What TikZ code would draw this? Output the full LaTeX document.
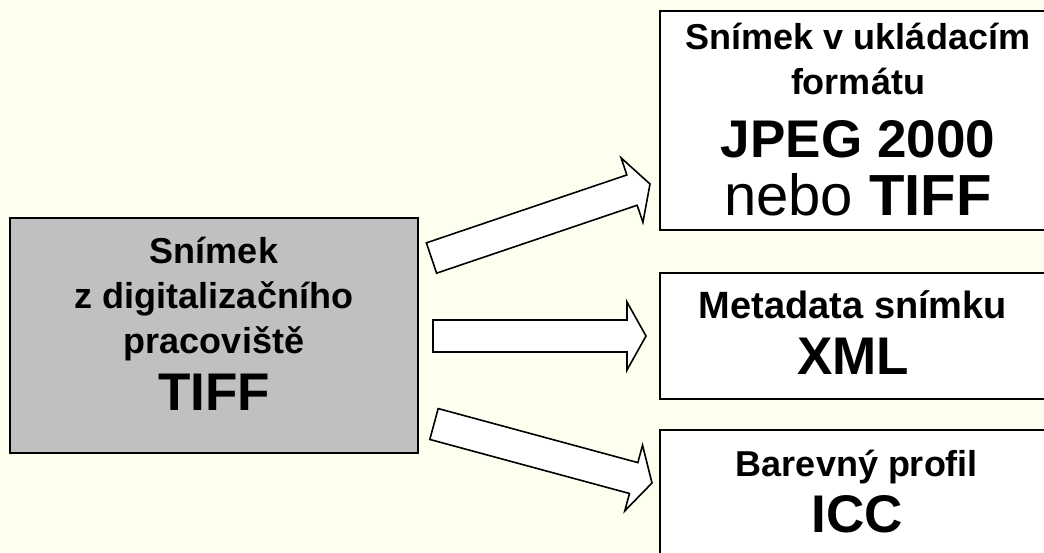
\documentclass[tikz,border=0pt]{standalone}
\usepackage{fontspec}
\setmainfont{Liberation Sans}
\usetikzlibrary{calc}
\definecolor{bgyellow}{RGB}{255,255,240}
\definecolor{boxgray}{RGB}{192,192,192}
\newcommand\bigtxt{\fontsize{53}{60}\selectfont}
\newcommand\fatarrow[3]{%
  \coordinate (#3h) at ($(#2)!19pt!(#1)$);
  \draw[fat] ($(#1)!16pt!90:(#2)$) -- ($(#3h)!16pt!90:(#2)$) -- ($(#3h)!34pt!90:(#2)$) -- (#2)
    -- ($(#3h)!34pt!-90:(#2)$) -- ($(#3h)!16pt!-90:(#2)$) -- ($(#1)!16pt!-90:(#2)$) -- cycle;
}
\tikzset{
  boxnode/.style={draw=black, line width=1.6pt, inner sep=0pt, rectangle},
  srcbox/.style={boxnode, fill=boxgray},
  dstbox/.style={boxnode, fill=white},
  txt/.style={align=center, inner sep=0pt, font=\fontsize{36}{45}\selectfont\bfseries},
  fat/.style={draw=black, line width=1.6pt, fill=white, line join=miter},
}
\begin{document}
\begin{tikzpicture}[x=1pt,y=-1pt]
\useasboundingbox (0,0) rectangle (1044,552);
\clip (0,0) rectangle (1044,552);
\fill[bgyellow] (0,0) rectangle (1044,552);

% boxes
\node[srcbox, minimum width=408pt, minimum height=235pt] (src) at (214,335.5) {};
\node[dstbox, minimum width=394pt, minimum height=219pt] (out1) at (857,120.5) {};
\node[dstbox, minimum width=394pt, minimum height=126pt] (out2) at (857,336) {};
\node[dstbox, minimum width=394pt, minimum height=126pt] (out3) at (857,493) {};

% texts
\node[txt] (srct) at (214,324) {Snímek\\z digitalizačního\\pracoviště\\[12pt]{\bigtxt TIFF}};
\node[txt] (out1t) at (858,120) {Snímek v ukládacím\\formátu\\[18pt]{\bigtxt JPEG 2000}\\[13pt]{\fontsize{58}{60}\selectfont\mdseries nebo \bfseries TIFF}};
\node[txt] (out2t) at (853,333) {{\fontsize{38}{45}\selectfont Metadata snímku}\\[11pt]{\bigtxt XML}};
\node[txt] (out3t) at (857,492) {Barevný profil\\[11pt]{\bigtxt ICC}};

% arrows
\coordinate (a1s) at (431.5,258);
\coordinate (a1e) at (650,184);
\coordinate (a2s) at (433,336);
\coordinate (a2e) at (646,336);
\coordinate (a3s) at (434,424);
\coordinate (a3e) at (652,483);
\fatarrow{a1s}{a1e}{a1}
\fatarrow{a2s}{a2e}{a2}
\fatarrow{a3s}{a3e}{a3}
\end{tikzpicture}
\end{document}
